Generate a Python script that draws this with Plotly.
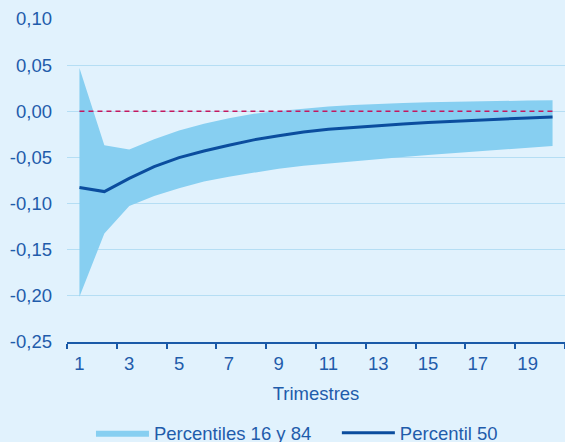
import plotly.graph_objects as go

trimestres = [str(i) for i in range(1, 21)]
p50 = [-0.0826, -0.0870, -0.0727, -0.0600, -0.0502, -0.0430, -0.0368, -0.0310, -0.0264, -0.0224,
       -0.0195, -0.0173, -0.0153, -0.0137, -0.0122, -0.0108, -0.0093, -0.0082, -0.0072, -0.0061]
p84 = [0.0468, -0.0368, -0.0414, -0.0303, -0.0209, -0.0135, -0.0075, -0.0028, 0.0004, 0.0029,
       0.0051, 0.0068, 0.0082, 0.0091, 0.0099, 0.0105, 0.0110, 0.0113, 0.0116, 0.0120]
p16 = [-0.2010, -0.1324, -0.1027, -0.0918, -0.0835, -0.0762, -0.0709, -0.0662, -0.0622, -0.0589,
       -0.0564, -0.0542, -0.0517, -0.0495, -0.0473, -0.0452, -0.0433, -0.0416, -0.0397, -0.0376]
zero_ref = [0.0] * 20
y_tickvals = [0.10, 0.05, 0.0, -0.05, -0.10, -0.15, -0.20, -0.25]
y_ticktext = ["0,10", "0,05", "0,00", "-0,05", "-0,10", "-0,15", "-0,20", "-0,25"]
band_name = "Percentiles 16 y 84"
median_name = "Percentil 50"

BG = "#e1f2fd"
BAND = "#87cff1"
LINE = "#0b4d9e"
TXT = "#1f5cab"
FONT = "Liberation Sans, Arial, sans-serif"
FS = 18.5

fig = go.Figure()
fig.add_trace(go.Scatter(x=trimestres, y=p16, mode="lines", line=dict(width=0, color=BAND),
                         showlegend=False, hoverinfo="skip"))
fig.add_trace(go.Scatter(x=trimestres, y=p84, mode="lines", line=dict(width=0, color=BAND),
                         fill="tonexty", fillcolor=BAND, name=band_name + "\u00a0" * 4))
fig.add_trace(go.Scatter(x=trimestres, y=zero_ref, mode="lines",
                         line=dict(width=1.5, color="#c4185f", dash="5px,4px"),
                         showlegend=False, hoverinfo="skip"))
fig.add_trace(go.Scatter(x=trimestres, y=p50, mode="lines", line=dict(width=3, color=LINE),
                         name=median_name))

fig.update_layout(
    width=565, height=442,
    margin=dict(l=67, r=0, t=19, b=100),
    paper_bgcolor=BG, plot_bgcolor=BG,
    font=dict(family=FONT, size=FS, color=TXT),
    showlegend=True,
    legend=dict(orientation="h", xref="container", yref="container",
                x=0.161, y=0.02, xanchor="left", yanchor="middle",
                itemwidth=53, traceorder="normal", font=dict(size=FS, color=TXT),
                bgcolor="rgba(0,0,0,0)", tracegroupgap=0),
)
fig.update_xaxes(
    type="category", categoryorder="array", categoryarray=trimestres,
    range=[-0.5, 19.5],
    tickmode="linear", tick0=0, dtick=2, tickson="boundaries", tickangle=0,
    showline=True, linecolor="#1a5aa8", linewidth=2,
    ticks="outside", ticklen=5, tickwidth=2, tickcolor="#1a5aa8",
    ticklabelstandoff=4,
    showgrid=False, zeroline=False,
    title=dict(text="Trimestres", standoff=14, font=dict(size=FS, color=TXT)),
    tickfont=dict(size=FS, color=TXT),
)
fig.update_yaxes(
    range=[-0.25, 0.10], tickmode="array", tickvals=y_tickvals, ticktext=y_ticktext,
    showgrid=True, gridcolor="#b5def4", gridwidth=1, zeroline=False,
    showline=False, ticks="", ticklabelstandoff=14,
    tickfont=dict(size=FS, color=TXT),
)

fig.write_html("out.html", config={"displayModeBar": False},
               post_script="document.body.style.margin='0';document.body.style.overflow='hidden';")
